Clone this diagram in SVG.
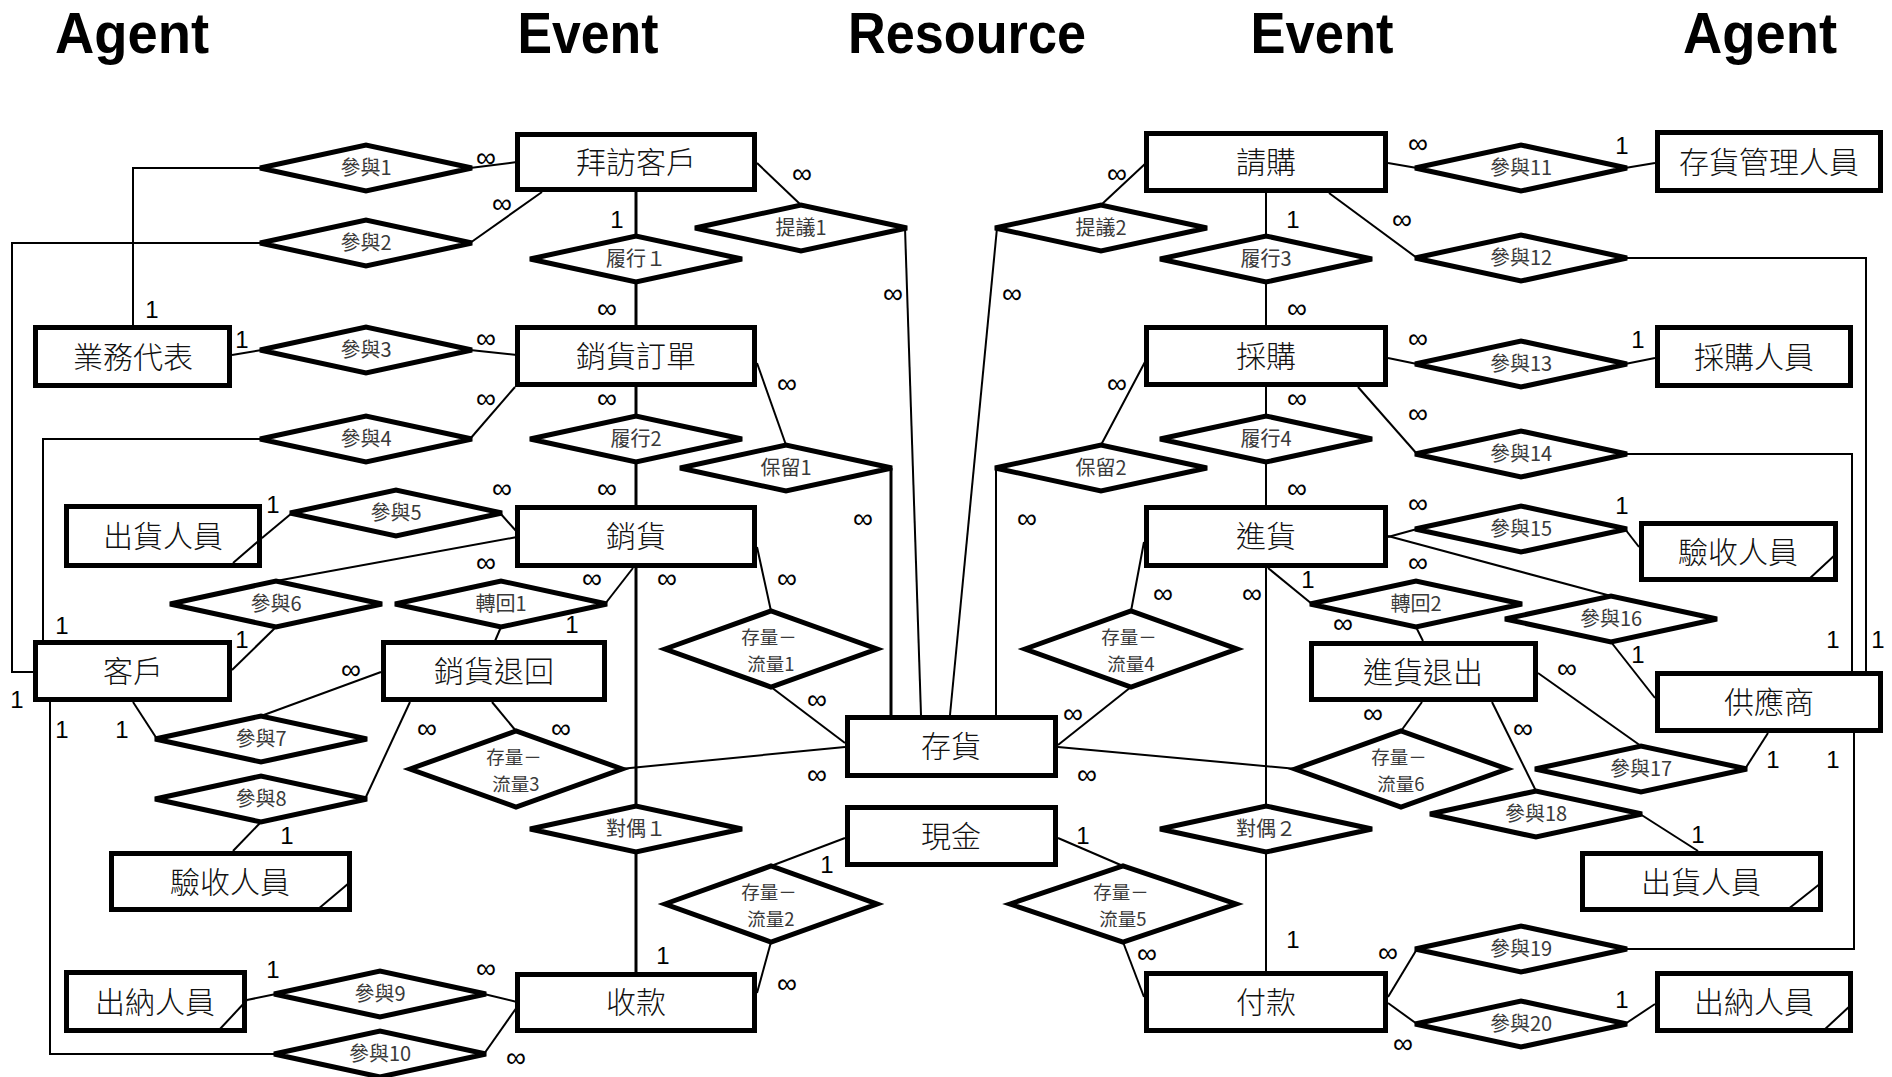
<svg xmlns="http://www.w3.org/2000/svg" width="1892" height="1077" viewBox="0 0 1892 1077">
<style>
.ent{fill:#fff;stroke:#000;stroke-width:5}
.rel{fill:#fff;stroke:#000;stroke-width:5}
.mk{stroke:#000;stroke-width:2;fill:none}
.cn line,.cn polyline{stroke:#000;stroke-width:2;fill:none}
.cn .th{stroke-width:3}
.t{font-family:"Noto Sans CJK TC","Noto Sans CJK SC",sans-serif;font-size:30px;font-weight:300;text-anchor:middle;fill:#111}
.r{font-family:"Noto Sans CJK TC","Noto Sans CJK SC",sans-serif;font-size:20px;text-anchor:middle;fill:#3a3a3a}
.f{font-family:"Noto Sans CJK TC","Noto Sans CJK SC",sans-serif;font-size:18.5px;text-anchor:middle;fill:#3a3a3a}
.n{font-family:"Liberation Sans",Arial,sans-serif;font-size:24px;text-anchor:middle;fill:#000}
.i{font-family:"Liberation Sans",Arial,sans-serif;font-size:28px;text-anchor:middle;fill:#000}
.h{font-family:"Liberation Sans",Arial,sans-serif;font-size:57px;font-weight:700;text-anchor:middle;fill:#000}
</style>
<rect width="1892" height="1077" fill="#fff"/>
<g id="titles">
<text class="h" x="132" y="53" textLength="154" lengthAdjust="spacingAndGlyphs">Agent</text>
<text class="h" x="588" y="53" textLength="141" lengthAdjust="spacingAndGlyphs">Event</text>
<text class="h" x="967" y="53" textLength="238" lengthAdjust="spacingAndGlyphs">Resource</text>
<text class="h" x="1322" y="53" textLength="143" lengthAdjust="spacingAndGlyphs">Event</text>
<text class="h" x="1760" y="53" textLength="154" lengthAdjust="spacingAndGlyphs">Agent</text>
</g>
<g id="connectors" class="cn">
<polyline points="133,325 133,168 262,168"/>
<line x1="470" y1="168" x2="517" y2="162"/>
<polyline points="262,243 12,243 12,672 33,672"/>
<line x1="470" y1="243" x2="542" y2="192"/>
<line x1="232" y1="355" x2="262" y2="350"/>
<line x1="470" y1="350" x2="517" y2="355"/>
<polyline points="262,439 43,439 43,640"/>
<line x1="470" y1="439" x2="515" y2="387"/>
<line x1="262" y1="538" x2="292" y2="513"/>
<line x1="500" y1="513" x2="517" y2="532"/>
<line x1="276" y1="581" x2="517" y2="537"/>
<line x1="276" y1="627" x2="232" y2="670"/>
<line x1="605" y1="604" x2="633" y2="568"/>
<line x1="501" y1="627" x2="495" y2="641"/>
<line x1="133" y1="702" x2="157" y2="739"/>
<line x1="261" y1="716" x2="381" y2="672"/>
<line x1="365" y1="799" x2="410" y2="702"/>
<line x1="261" y1="822" x2="233" y2="851"/>
<line x1="516" y1="731" x2="492" y2="702"/>
<line x1="620" y1="769" x2="845" y2="747"/>
<line x1="276" y1="994" x2="247" y2="1000"/>
<line x1="484" y1="994" x2="517" y2="1002"/>
<polyline points="50,702 50,1054 276,1054"/>
<line x1="484" y1="1054" x2="517" y2="1007"/>
<line class="th" x1="636" y1="192" x2="636" y2="236"/>
<line class="th" x1="636" y1="282" x2="636" y2="325"/>
<line class="th" x1="636" y1="387" x2="636" y2="416"/>
<line class="th" x1="636" y1="462" x2="636" y2="505"/>
<line class="th" x1="636" y1="568" x2="636" y2="806"/>
<line class="th" x1="636" y1="852" x2="636" y2="972"/>
<line x1="757" y1="163" x2="801" y2="205"/>
<line x1="905" y1="228" x2="921" y2="715"/>
<line x1="757" y1="363" x2="786" y2="445"/>
<line class="th" x1="891" y1="468" x2="891" y2="715"/>
<line x1="757" y1="547" x2="771" y2="611"/>
<line x1="771" y1="687" x2="845" y2="743"/>
<line x1="845" y1="838" x2="771" y2="866"/>
<line x1="771" y1="942" x2="757" y2="993"/>
<line x1="1146" y1="163" x2="1101" y2="205"/>
<line x1="997" y1="228" x2="950" y2="715"/>
<line x1="1146" y1="360" x2="1101" y2="445"/>
<line x1="996" y1="468" x2="996" y2="715"/>
<line x1="1266" y1="193" x2="1266" y2="236"/>
<line x1="1266" y1="282" x2="1266" y2="325"/>
<line x1="1266" y1="387" x2="1266" y2="416"/>
<line x1="1266" y1="462" x2="1266" y2="505"/>
<line x1="1266" y1="568" x2="1266" y2="806"/>
<line x1="1266" y1="852" x2="1266" y2="971"/>
<line x1="1144" y1="542" x2="1131" y2="611"/>
<line x1="1131" y1="687" x2="1058" y2="745"/>
<line x1="1268" y1="568" x2="1312" y2="604"/>
<line x1="1416" y1="627" x2="1423" y2="641"/>
<line x1="1297" y1="769" x2="1058" y2="747"/>
<line x1="1401" y1="731" x2="1422" y2="702"/>
<line x1="1058" y1="838" x2="1123" y2="866"/>
<line x1="1123" y1="942" x2="1144" y2="997"/>
<line x1="1388" y1="163" x2="1417" y2="168"/>
<line x1="1625" y1="168" x2="1655" y2="163"/>
<line x1="1329" y1="193" x2="1417" y2="258"/>
<polyline points="1625,258 1866,258 1866,671"/>
<line x1="1388" y1="358" x2="1417" y2="364"/>
<line x1="1625" y1="364" x2="1655" y2="358"/>
<line x1="1358" y1="387" x2="1417" y2="454"/>
<polyline points="1625,454 1852,454 1852,671"/>
<line x1="1388" y1="537" x2="1417" y2="529"/>
<line x1="1625" y1="529" x2="1639" y2="547"/>
<line x1="1388" y1="536" x2="1611" y2="596"/>
<line x1="1611" y1="642" x2="1655" y2="698"/>
<line x1="1538" y1="673" x2="1641" y2="746"/>
<line x1="1745" y1="769" x2="1768" y2="733"/>
<line x1="1492" y1="702" x2="1536" y2="791"/>
<line x1="1640" y1="814" x2="1698" y2="851"/>
<line x1="1388" y1="997" x2="1417" y2="949"/>
<polyline points="1625,949 1854,949 1854,733"/>
<line x1="1388" y1="1003" x2="1417" y2="1024"/>
<line x1="1625" y1="1024" x2="1655" y2="1004"/>
</g>
<g id="cardinalities">
<text class="n" x="152" y="318">1</text>
<text class="n" x="242" y="348">1</text>
<text class="n" x="17" y="708">1</text>
<text class="n" x="62" y="634">1</text>
<text class="n" x="273" y="513">1</text>
<text class="n" x="242" y="648">1</text>
<text class="n" x="62" y="738">1</text>
<text class="n" x="122" y="738">1</text>
<text class="n" x="287" y="844">1</text>
<text class="n" x="273" y="978">1</text>
<text class="n" x="572" y="633">1</text>
<text class="n" x="617" y="228">1</text>
<text class="n" x="663" y="964">1</text>
<text class="n" x="827" y="873">1</text>
<text class="n" x="1083" y="844">1</text>
<text class="n" x="1293" y="228">1</text>
<text class="n" x="1308" y="588">1</text>
<text class="n" x="1293" y="948">1</text>
<text class="n" x="1622" y="154">1</text>
<text class="n" x="1638" y="348">1</text>
<text class="n" x="1622" y="514">1</text>
<text class="n" x="1638" y="663">1</text>
<text class="n" x="1833" y="648">1</text>
<text class="n" x="1878" y="648">1</text>
<text class="n" x="1773" y="768">1</text>
<text class="n" x="1833" y="768">1</text>
<text class="n" x="1698" y="843">1</text>
<text class="n" x="1622" y="1008">1</text>
<text class="i" x="486" y="167">∞</text>
<text class="i" x="502" y="213">∞</text>
<text class="i" x="486" y="348">∞</text>
<text class="i" x="486" y="408">∞</text>
<text class="i" x="502" y="498">∞</text>
<text class="i" x="486" y="572">∞</text>
<text class="i" x="592" y="588">∞</text>
<text class="i" x="351" y="679">∞</text>
<text class="i" x="427" y="738">∞</text>
<text class="i" x="561" y="738">∞</text>
<text class="i" x="486" y="978">∞</text>
<text class="i" x="516" y="1067">∞</text>
<text class="i" x="802" y="183">∞</text>
<text class="i" x="893" y="303">∞</text>
<text class="i" x="787" y="393">∞</text>
<text class="i" x="863" y="528">∞</text>
<text class="i" x="787" y="588">∞</text>
<text class="i" x="667" y="588">∞</text>
<text class="i" x="817" y="709">∞</text>
<text class="i" x="817" y="784">∞</text>
<text class="i" x="787" y="993">∞</text>
<text class="i" x="607" y="318">∞</text>
<text class="i" x="607" y="408">∞</text>
<text class="i" x="607" y="498">∞</text>
<text class="i" x="1117" y="183">∞</text>
<text class="i" x="1012" y="303">∞</text>
<text class="i" x="1117" y="393">∞</text>
<text class="i" x="1027" y="528">∞</text>
<text class="i" x="1163" y="603">∞</text>
<text class="i" x="1252" y="603">∞</text>
<text class="i" x="1073" y="723">∞</text>
<text class="i" x="1087" y="784">∞</text>
<text class="i" x="1147" y="963">∞</text>
<text class="i" x="1297" y="318">∞</text>
<text class="i" x="1297" y="408">∞</text>
<text class="i" x="1297" y="498">∞</text>
<text class="i" x="1418" y="153">∞</text>
<text class="i" x="1402" y="229">∞</text>
<text class="i" x="1418" y="348">∞</text>
<text class="i" x="1418" y="423">∞</text>
<text class="i" x="1418" y="513">∞</text>
<text class="i" x="1418" y="572">∞</text>
<text class="i" x="1343" y="633">∞</text>
<text class="i" x="1567" y="678">∞</text>
<text class="i" x="1523" y="738">∞</text>
<text class="i" x="1373" y="723">∞</text>
<text class="i" x="1388" y="962">∞</text>
<text class="i" x="1403" y="1053">∞</text>
</g>
<g id="n-baifang"><rect class="ent" x="517.5" y="134.5" width="237" height="55"/><text class="t" x="636" y="173">拜訪客戶</text></g>
<g id="n-xiaohuodingdan"><rect class="ent" x="517.5" y="327.5" width="237" height="57"/><text class="t" x="636" y="367">銷貨訂單</text></g>
<g id="n-xiaohuo"><rect class="ent" x="517.5" y="507.5" width="237" height="58"/><text class="t" x="636" y="547">銷貨</text></g>
<g id="n-shoukuan"><rect class="ent" x="517.5" y="974.5" width="237" height="56"/><text class="t" x="636" y="1013">收款</text></g>
<g id="n-qinggou"><rect class="ent" x="1146.5" y="133.5" width="239" height="57"/><text class="t" x="1266" y="173">請購</text></g>
<g id="n-caigou"><rect class="ent" x="1146.5" y="327.5" width="239" height="57"/><text class="t" x="1266" y="367">採購</text></g>
<g id="n-jinhuo"><rect class="ent" x="1146.5" y="507.5" width="239" height="58"/><text class="t" x="1266" y="547">進貨</text></g>
<g id="n-fukuan"><rect class="ent" x="1146.5" y="973.5" width="239" height="57"/><text class="t" x="1266" y="1013">付款</text></g>
<g id="n-cunhuo"><rect class="ent" x="847.5" y="717.5" width="208" height="58"/><text class="t" x="951" y="757">存貨</text></g>
<g id="n-xianjin"><rect class="ent" x="847.5" y="807.5" width="208" height="57"/><text class="t" x="951" y="847">現金</text></g>
<g id="n-yewudaibiao"><rect class="ent" x="35.5" y="327.5" width="194" height="58"/><text class="t" x="133" y="368">業務代表</text></g>
<g id="n-chuhuo-l"><rect class="ent" x="66.5" y="506.5" width="193" height="59"/><text class="t" x="163" y="547">出貨人員</text><line class="mk" x1="233" y1="563" x2="262" y2="538"/></g>
<g id="n-kehu"><rect class="ent" x="35.5" y="642.5" width="194" height="57"/><text class="t" x="133" y="682">客戶</text></g>
<g id="n-xiaohuotuihui"><rect class="ent" x="383.5" y="642.5" width="221" height="57"/><text class="t" x="494" y="682">銷貨退回</text></g>
<g id="n-yanshou-l"><rect class="ent" x="111.5" y="853.5" width="238" height="56"/><text class="t" x="230" y="893">驗收人員</text><line class="mk" x1="317" y1="910" x2="349" y2="883"/></g>
<g id="n-chuna-l"><rect class="ent" x="66.5" y="972.5" width="178" height="58"/><text class="t" x="155" y="1013">出納人員</text><line class="mk" x1="220" y1="1029" x2="247" y2="1000"/></g>
<g id="n-cunhuoguanli"><rect class="ent" x="1657.5" y="132.5" width="223" height="58"/><text class="t" x="1769" y="173">存貨管理人員</text></g>
<g id="n-caigourenyuan"><rect class="ent" x="1657.5" y="327.5" width="193" height="58"/><text class="t" x="1754" y="368">採購人員</text></g>
<g id="n-yanshou-r"><rect class="ent" x="1641.5" y="523.5" width="194" height="56"/><text class="t" x="1738" y="563">驗收人員</text><line class="mk" x1="1808" y1="580" x2="1836" y2="554"/></g>
<g id="n-gongyingshang"><rect class="ent" x="1657.5" y="673.5" width="223" height="57"/><text class="t" x="1769" y="713">供應商</text></g>
<g id="n-jinhuotuichu"><rect class="ent" x="1311.5" y="643.5" width="224" height="56"/><text class="t" x="1423" y="683">進貨退出</text></g>
<g id="n-chuhuo-r"><rect class="ent" x="1582.5" y="853.5" width="238" height="56"/><text class="t" x="1701" y="893">出貨人員</text><line class="mk" x1="1787" y1="910" x2="1821" y2="883"/></g>
<g id="n-chuna-r"><rect class="ent" x="1657.5" y="973.5" width="193" height="57"/><text class="t" x="1754" y="1013">出納人員</text><line class="mk" x1="1823" y1="1031" x2="1851" y2="1005"/></g>
<g id="r-canyu1"><polygon class="rel" points="260,168 366,145 472,168 366,191"/><text class="r" x="366" y="175">參與1</text></g>
<g id="r-canyu2"><polygon class="rel" points="260,243 366,220 472,243 366,266"/><text class="r" x="366" y="250">參與2</text></g>
<g id="r-canyu3"><polygon class="rel" points="260,350 366,327 472,350 366,373"/><text class="r" x="366" y="357">參與3</text></g>
<g id="r-canyu4"><polygon class="rel" points="260,439 366,416 472,439 366,462"/><text class="r" x="366" y="446">參與4</text></g>
<g id="r-canyu5"><polygon class="rel" points="290,513 396,490 502,513 396,536"/><text class="r" x="396" y="520">參與5</text></g>
<g id="r-canyu6"><polygon class="rel" points="170,604 276,581 382,604 276,627"/><text class="r" x="276" y="611">參與6</text></g>
<g id="r-zhuanhui1"><polygon class="rel" points="395,604 501,581 607,604 501,627"/><text class="r" x="501" y="611">轉回1</text></g>
<g id="r-canyu7"><polygon class="rel" points="155,739 261,716 367,739 261,762"/><text class="r" x="261" y="746">參與7</text></g>
<g id="r-canyu8"><polygon class="rel" points="155,799 261,776 367,799 261,822"/><text class="r" x="261" y="806">參與8</text></g>
<g id="r-flow3"><polygon class="rel" points="410,769 516,731 622,769 516,807"/><text class="f" x="514" y="764">存量－<tspan x="516" dy="27">流量3</tspan></text></g>
<g id="r-canyu9"><polygon class="rel" points="274,994 380,971 486,994 380,1017"/><text class="r" x="380" y="1001">參與9</text></g>
<g id="r-canyu10"><polygon class="rel" points="274,1054 380,1031 486,1054 380,1077"/><text class="r" x="380" y="1061">參與10</text></g>
<g id="r-lvxing1"><polygon class="rel" points="530,259 636,236 742,259 636,282"/><text class="r" x="636" y="266">履行１</text></g>
<g id="r-tiyi1"><polygon class="rel" points="695,228 801,205 907,228 801,251"/><text class="r" x="801" y="235">提議1</text></g>
<g id="r-lvxing2"><polygon class="rel" points="530,439 636,416 742,439 636,462"/><text class="r" x="636" y="446">履行2</text></g>
<g id="r-baoliu1"><polygon class="rel" points="680,468 786,445 892,468 786,491"/><text class="r" x="786" y="475">保留1</text></g>
<g id="r-flow1"><polygon class="rel" points="665,649 771,611 877,649 771,687"/><text class="f" x="769" y="644">存量－<tspan x="771" dy="27">流量1</tspan></text></g>
<g id="r-duiou1"><polygon class="rel" points="530,829 636,806 742,829 636,852"/><text class="r" x="636" y="836">對偶１</text></g>
<g id="r-flow2"><polygon class="rel" points="665,904 771,866 877,904 771,942"/><text class="f" x="769" y="899">存量－<tspan x="771" dy="27">流量2</tspan></text></g>
<g id="r-tiyi2"><polygon class="rel" points="995,228 1101,205 1207,228 1101,251"/><text class="r" x="1101" y="235">提議2</text></g>
<g id="r-lvxing3"><polygon class="rel" points="1160,259 1266,236 1372,259 1266,282"/><text class="r" x="1266" y="266">履行3</text></g>
<g id="r-baoliu2"><polygon class="rel" points="995,468 1101,445 1207,468 1101,491"/><text class="r" x="1101" y="475">保留2</text></g>
<g id="r-lvxing4"><polygon class="rel" points="1160,439 1266,416 1372,439 1266,462"/><text class="r" x="1266" y="446">履行4</text></g>
<g id="r-flow4"><polygon class="rel" points="1025,649 1131,611 1237,649 1131,687"/><text class="f" x="1129" y="644">存量－<tspan x="1131" dy="27">流量4</tspan></text></g>
<g id="r-duiou2"><polygon class="rel" points="1160,829 1266,806 1372,829 1266,852"/><text class="r" x="1266" y="836">對偶２</text></g>
<g id="r-flow5"><polygon class="rel" points="1010,904 1123,866 1236,904 1123,942"/><text class="f" x="1121" y="899">存量－<tspan x="1123" dy="27">流量5</tspan></text></g>
<g id="r-flow6"><polygon class="rel" points="1295,769 1401,731 1507,769 1401,807"/><text class="f" x="1399" y="764">存量－<tspan x="1401" dy="27">流量6</tspan></text></g>
<g id="r-canyu11"><polygon class="rel" points="1415,168 1521,145 1627,168 1521,191"/><text class="r" x="1521" y="175">參與11</text></g>
<g id="r-canyu12"><polygon class="rel" points="1415,258 1521,235 1627,258 1521,281"/><text class="r" x="1521" y="265">參與12</text></g>
<g id="r-canyu13"><polygon class="rel" points="1415,364 1521,341 1627,364 1521,387"/><text class="r" x="1521" y="371">參與13</text></g>
<g id="r-canyu14"><polygon class="rel" points="1415,454 1521,431 1627,454 1521,477"/><text class="r" x="1521" y="461">參與14</text></g>
<g id="r-canyu15"><polygon class="rel" points="1415,529 1521,506 1627,529 1521,552"/><text class="r" x="1521" y="536">參與15</text></g>
<g id="r-zhuanhui2"><polygon class="rel" points="1310,604 1416,581 1522,604 1416,627"/><text class="r" x="1416" y="611">轉回2</text></g>
<g id="r-canyu16"><polygon class="rel" points="1505,619 1611,596 1717,619 1611,642"/><text class="r" x="1611" y="626">參與16</text></g>
<g id="r-canyu17"><polygon class="rel" points="1535,769 1641,746 1747,769 1641,792"/><text class="r" x="1641" y="776">參與17</text></g>
<g id="r-canyu18"><polygon class="rel" points="1430,814 1536,791 1642,814 1536,837"/><text class="r" x="1536" y="821">參與18</text></g>
<g id="r-canyu19"><polygon class="rel" points="1415,949 1521,926 1627,949 1521,972"/><text class="r" x="1521" y="956">參與19</text></g>
<g id="r-canyu20"><polygon class="rel" points="1415,1024 1521,1001 1627,1024 1521,1047"/><text class="r" x="1521" y="1031">參與20</text></g>
</svg>
